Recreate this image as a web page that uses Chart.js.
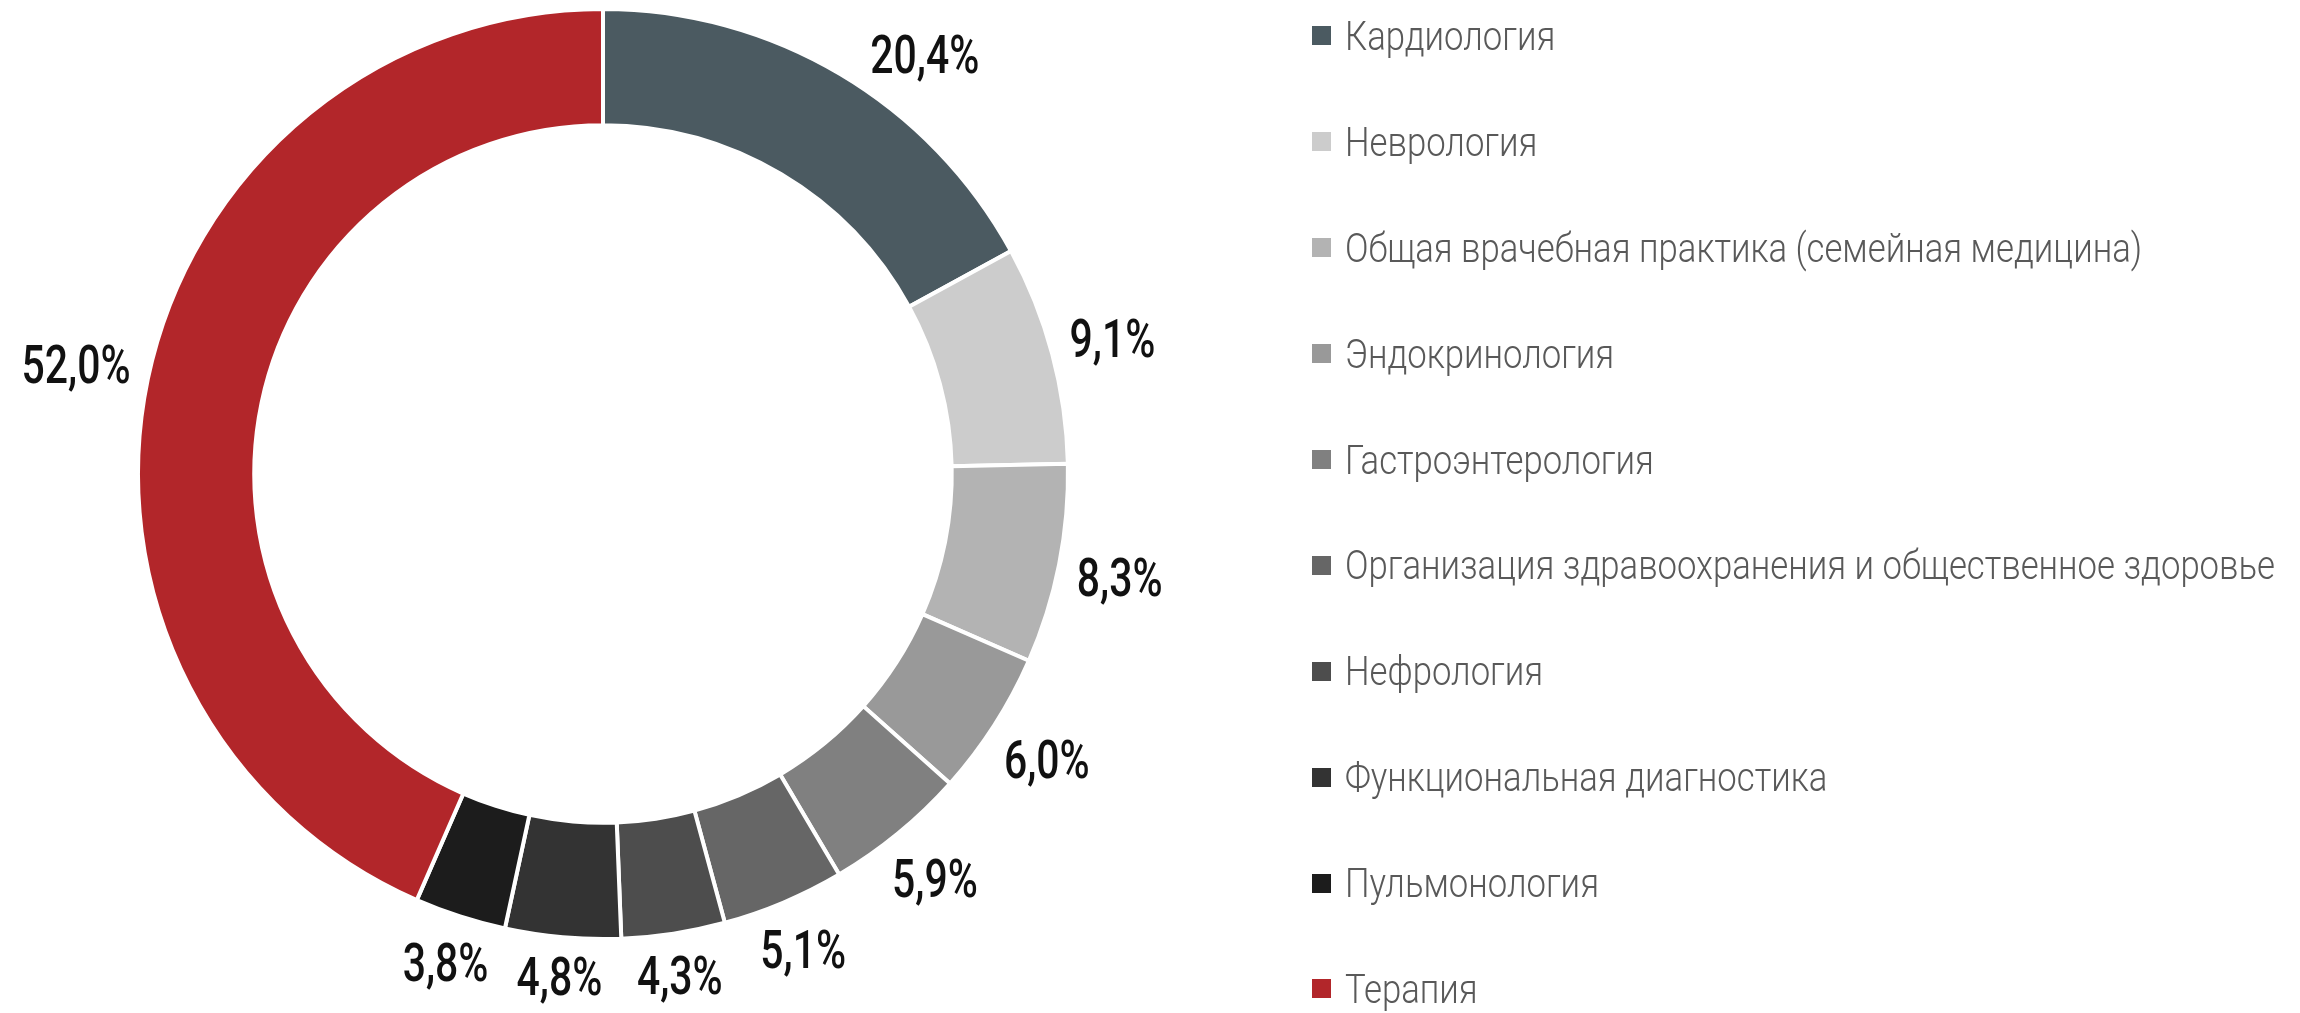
<!DOCTYPE html>
<html lang="ru">
<head>
<meta charset="utf-8">
<title>Специальности</title>
<script src="https://cdn.jsdelivr.net/npm/chart.js@4.4.0/dist/chart.umd.min.js"></script>
<style>
  html, body { margin: 0; padding: 0; background: #fff; }
  #wrap { position: relative; width: 2300px; height: 1013px; overflow: hidden; }
  #chart { position: absolute; left: 0; top: 0; }
  #legend { position: absolute; left: 1312px; top: -17px; }
  .item { display: flex; align-items: center; height: 105.9px; }
  .box { width: 19px; height: 19px; margin-right: 14px; flex: none; }
  .txt { font: 300 41px Roboto, sans-serif; color: #595959; white-space: nowrap; transform-origin: left center; }
</style>
</head>
<body>
<div id="wrap">
  <canvas id="chart" width="2300" height="1013"></canvas>
  <div id="legend"></div>
</div>
<script>
const labels = [
  'Кардиология',
  'Неврология',
  'Общая врачебная практика (семейная медицина)',
  'Эндокринология',
  'Гастроэнтерология',
  'Организация здравоохранения и общественное здоровье',
  'Нефрология',
  'Функциональная диагностика',
  'Пульмонология',
  'Терапия'
];
const shares = [20.4, 9.1, 8.3, 6.0, 5.9, 5.1, 4.3, 4.8, 3.8, 52.0];
const colors = ['#4b5a61', '#cccccc', '#b3b3b3', '#999999', '#808080', '#666666', '#4d4d4d', '#333333', '#1c1c1c', '#b2262a'];

function fmt(v) {
  return v.toFixed(1).replace('.', ',') + '%';
}

// percentage labels outside the ring, pushed down along the ring if they hit the top
const pctLabels = {
  id: 'pctLabels',
  afterDatasetsDraw(chart, args, opts) {
    const ctx = chart.ctx;
    const meta = chart.getDatasetMeta(0);
    ctx.save();
    ctx.font = opts.weight + ' ' + opts.size + 'px ' + opts.family;
    const sx = opts.fitWidth / ctx.measureText(opts.fitText).width;
    const h = opts.size * 0.711;
    meta.data.forEach((arc, i) => {
      const p = arc.getProps(['x', 'y', 'startAngle', 'endAngle', 'outerRadius'], true);
      const text = fmt(shares[i]);
      const w = ctx.measureText(text).width * sx;
      const rOut = p.outerRadius - arc.options.borderWidth / 2;
      let a = (p.startAngle + p.endAngle) / 2;
      const place = ang => {
        const c = Math.cos(ang), s = Math.sin(ang);
        const r = rOut + opts.gap + Math.abs(c) * w / 2 + Math.abs(s) * h / 2;
        return { x: p.x + r * c, y: p.y + r * s };
      };
      let pos = place(a);
      const step = Math.cos(a) >= 0 ? 0.002 : -0.002;
      let n = 0;
      while (pos.y - h / 2 < opts.minTop && n < 1000) { a += step; pos = place(a); n++; }
      ctx.save();
      ctx.translate(pos.x, pos.y + h / 2);
      ctx.scale(sx, 1);
      ctx.fillStyle = opts.color;
      ctx.textAlign = 'center';
      ctx.textBaseline = 'alphabetic';
      ctx.fillText(text, 0, 0);
      ctx.restore();
    });
    ctx.restore();
  }
};

new Chart(document.getElementById('chart'), {
  type: 'doughnut',
  data: {
    labels: labels,
    datasets: [{
      data: shares,
      backgroundColor: colors,
      borderColor: '#ffffff',
      borderWidth: 4,
      hoverOffset: 0
    }]
  },
  options: {
    responsive: false,
    animation: false,
    devicePixelRatio: 1,
    radius: 465,
    cutout: '75%',
    layout: { padding: { left: 138, top: 9, right: 1232, bottom: 74 } },
    plugins: {
      legend: { display: false },
      tooltip: { enabled: false },
      pctLabels: {
        family: 'Roboto, sans-serif',
        weight: 500,
        size: 54,
        fitText: '20,4%',
        fitWidth: 109,
        gap: 18,
        minTop: 34,
        color: '#111111'
      }
    }
  },
  plugins: [pctLabels]
});

// legend
const legend = document.getElementById('legend');
const mctx = document.createElement('canvas').getContext('2d');
mctx.font = '300 41px Roboto, sans-serif';
const longest = labels.reduce((a, b) => mctx.measureText(b).width > mctx.measureText(a).width ? b : a);
const lsx = 930 / mctx.measureText(longest).width;
labels.forEach((name, i) => {
  const row = document.createElement('div');
  row.className = 'item';
  const box = document.createElement('div');
  box.className = 'box';
  box.style.background = colors[i];
  const txt = document.createElement('span');
  txt.className = 'txt';
  txt.textContent = name;
  txt.style.transform = 'scaleX(' + lsx + ')';
  row.appendChild(box);
  row.appendChild(txt);
  legend.appendChild(row);
});
</script>
</body>
</html>
